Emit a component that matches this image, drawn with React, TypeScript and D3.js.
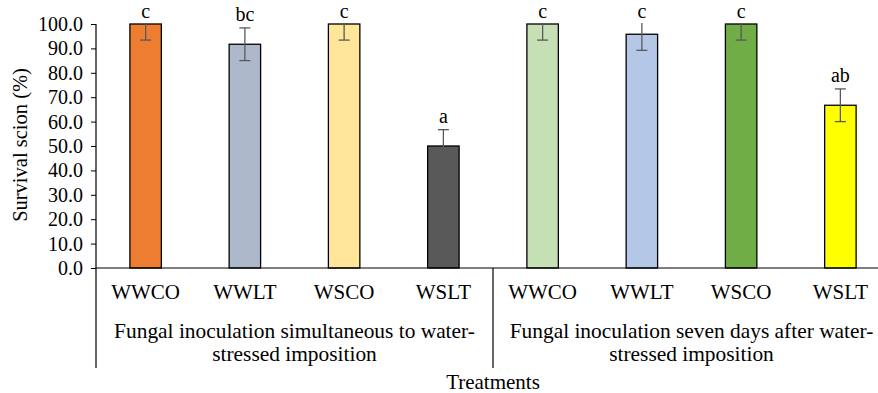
import { useEffect, useRef } from 'react'
import * as d3 from 'd3'

const treatments = ['WWCO', 'WWLT', 'WSCO', 'WSLT', 'WWCO', 'WWLT', 'WSCO', 'WSLT']
const survival = [100, 91.7, 100, 50, 100, 95.8, 100, 66.7]
const errors = [6.6, 6.7, 6.6, 6.7, 6.6, 6.6, 6.6, 6.7]
const letters = ['c', 'bc', 'c', 'a', 'c', 'c', 'c', 'ab']
const groups = [
  ['Fungal inoculation simultaneous to water-', 'stressed imposition'],
  ['Fungal inoculation seven days after water-', 'stressed imposition'],
]
const yTicks = [0, 10, 20, 30, 40, 50, 60, 70, 80, 90, 100]

const BAR_COLORS = ['#ED7D31', '#ADB9CA', '#FFE699', '#595959', '#C5E0B4', '#B4C7E7', '#70AD47', '#FFFF00']
const FONT = "'Liberation Serif', 'DejaVu Serif', serif"

export default function App() {
  const svgRef = useRef<SVGSVGElement>(null)

  useEffect(() => {
    if (!svgRef.current) return
    const W = 878, H = 393
    const left = 96, right = 890, top = 24, base = 268, bottomLine = 368

    const svg = d3.select(svgRef.current)
    svg.selectAll('*').remove()
    svg.attr('width', W).attr('height', H)
      .style('font-family', FONT).style('font-size', '20px')

    const x = d3.scaleBand<number>()
      .domain(d3.range(treatments.length))
      .range([left, right])
      .paddingInner(0.683)
      .paddingOuter(0.3415)

    const y = d3.scaleLinear().domain([0, 100]).range([base, top])

    svg.append('defs').append('clipPath').attr('id', 'plotclip')
      .append('rect').attr('x', left).attr('y', top - 1).attr('width', right - left).attr('height', base - top + 1)

    // Bars
    svg.append('g').selectAll('rect')
      .data(survival)
      .enter().append('rect')
      .attr('x', (_, i) => x(i)!)
      .attr('y', d => y(d))
      .attr('width', x.bandwidth())
      .attr('height', d => base - y(d))
      .attr('fill', (_, i) => BAR_COLORS[i])
      .attr('stroke', '#000')
      .attr('stroke-width', 1.3)

    // Error bars (clipped at 100 like the original)
    const eb = svg.append('g').attr('clip-path', 'url(#plotclip)')
      .attr('stroke', '#595959').attr('stroke-width', 1.3)
    survival.forEach((v, i) => {
      const cx = x(i)! + x.bandwidth() / 2
      const hi = y(v + errors[i]), lo = y(v - errors[i])
      eb.append('line').attr('x1', cx).attr('x2', cx).attr('y1', hi).attr('y2', lo)
      eb.append('line').attr('x1', cx - 5.5).attr('x2', cx + 5.5).attr('y1', hi).attr('y2', hi)
      eb.append('line').attr('x1', cx - 5.5).attr('x2', cx + 5.5).attr('y1', lo).attr('y2', lo)
    })

    const label = (size: number) => (sel: d3.Selection<SVGTextElement, unknown, null, undefined>) =>
      sel.attr('text-anchor', 'middle').attr('fill', '#000')
        .style('font-family', FONT).style('font-size', `${size}px`)

    // Significance letters
    survival.forEach((v, i) => {
      svg.append('text')
        .attr('x', x(i)! + x.bandwidth() / 2)
        .attr('y', y(Math.min(v + errors[i], 100)) - 6.5)
        .call(label(20))
        .text(letters[i])
    })

    // Y axis
    svg.append('g')
      .attr('transform', `translate(${left},0)`)
      .call(d3.axisLeft(y).tickValues(yTicks).tickSize(5).tickPadding(8).tickFormat(d3.format('.1f')))
      .attr('font-family', null).attr('font-size', null)
      .call(ax => ax.select('.domain').remove())
      .call(ax => ax.selectAll('.tick line').attr('stroke', '#000'))
      .call(ax => ax.selectAll('text').attr('fill', '#000').style('font-family', FONT).style('font-size', '20px'))

    // Axis lines and group separators
    const lines = svg.append('g').attr('stroke', '#000').attr('stroke-width', 1.2)
    lines.append('line').attr('x1', left).attr('x2', left).attr('y1', top).attr('y2', bottomLine)
    lines.append('line').attr('x1', left).attr('x2', W).attr('y1', base).attr('y2', base)
    const sepX = (x(3)! + x.bandwidth() + x(4)!) / 2
    lines.append('line').attr('x1', sepX).attr('x2', sepX).attr('y1', base).attr('y2', bottomLine)

    // Category labels
    treatments.forEach((t, i) => {
      svg.append('text')
        .attr('x', x(i)! + x.bandwidth() / 2).attr('y', 299)
        .call(label(21))
        .text(t)
    })

    // Group labels
    groups.forEach((lns, gi) => {
      const x0 = gi === 0 ? left : sepX
      const x1 = gi === 0 ? sepX : right
      lns.forEach((ln, li) => {
        svg.append('text')
          .attr('x', (x0 + x1) / 2).attr('y', 338 + li * 23)
          .call(label(21.4))
          .text(ln)
      })
    })

    // Axis titles
    svg.append('text')
      .attr('x', sepX).attr('y', 389)
      .call(label(21))
      .text('Treatments')

    svg.append('text')
      .attr('transform', `translate(27,${(top + base) / 2 - 1}) rotate(-90)`)
      .call(label(20.5))
      .text('Survival scion (%)')
  }, [])

  return (
    <div style={{ position: 'absolute', left: 0, top: 0, width: 878, height: 393, background: '#fff' }}>
      <svg ref={svgRef} style={{ display: 'block' }} />
    </div>
  )
}
